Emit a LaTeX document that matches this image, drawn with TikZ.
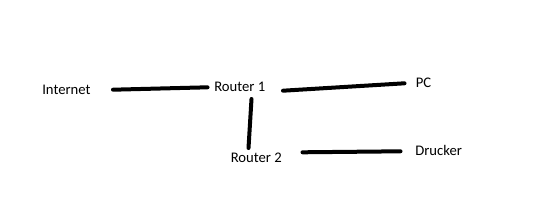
\documentclass[tikz,border=0pt]{standalone}
\usepackage{fontspec}
\setmainfont{Carlito}
\begin{document}
\begin{tikzpicture}[x=0.75pt,y=-0.75pt,
  lbl/.style={anchor=west,inner sep=0pt,font=\fontsize{11}{13}\selectfont},
  wire/.style={line width=3pt,line cap=round,black}]
\useasboundingbox[fill=white] (0,0) rectangle (535,222);
\node[lbl] (inet) at (42,90) {Internet};
\node[lbl] (r1) at (214,87.3) {Router 1};
\node[lbl] (pc) at (415.5,82.7) {PC};
\node[lbl] (r2) at (230.5,158) {Router 2};
\node[lbl] (dr) at (415,150) {Drucker};
\coordinate (a1) at (113,89.7);
\coordinate (a2) at (207.5,87.3);
\coordinate (b1) at (283,90.7);
\coordinate (b2) at (404.5,83.3);
\coordinate (c1) at (251.5,99);
\coordinate (c2) at (248.5,148);
\coordinate (d1) at (302.5,152.3);
\coordinate (d2) at (400.5,151.3);
\draw[wire] (a1) -- (a2);
\draw[wire] (b1) -- (b2);
\draw[wire] (c1) -- (c2);
\draw[wire] (d1) -- (d2);
\end{tikzpicture}
\end{document}
